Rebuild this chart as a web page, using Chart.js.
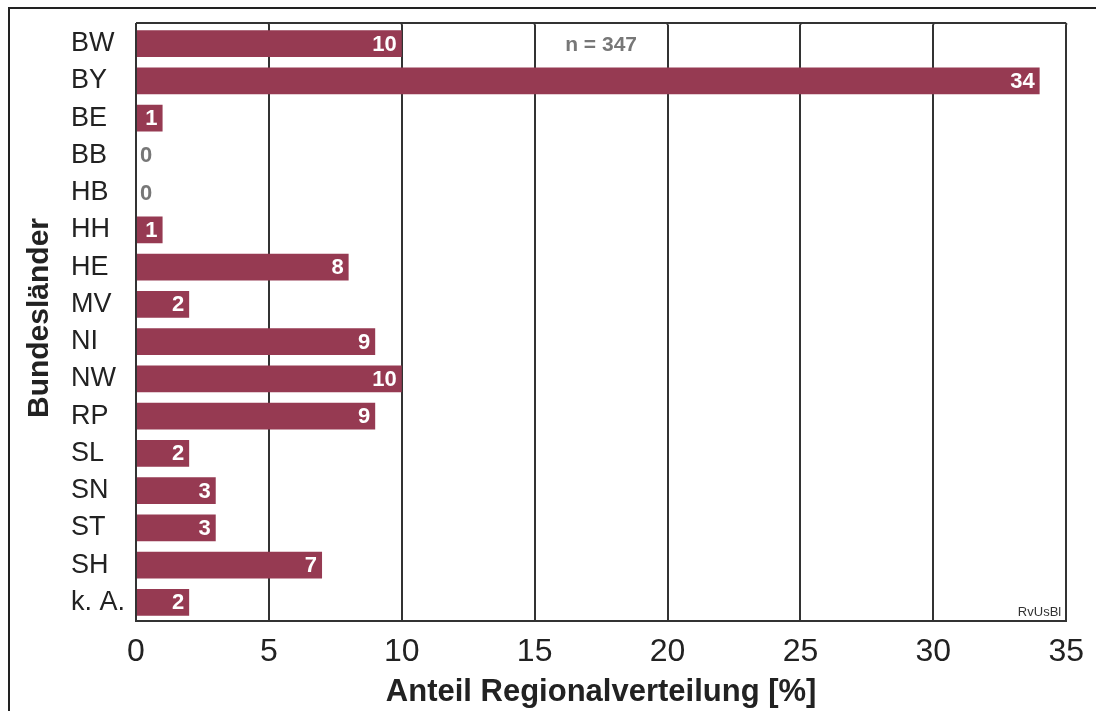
<!DOCTYPE html>
<html lang="de">
<head>
  <meta charset="UTF-8">
  <title>Regionalverteilung</title>
  <script src="https://cdn.jsdelivr.net/npm/chart.js@4"></script>
  <style>
    body { margin: 0; background: #fff; }
    #wrap { width: 1096px; height: 711px; }
  </style>
</head>
<body>
  <div id="wrap"><canvas id="chart" width="1096" height="711"></canvas></div>

  <script>
    const laender = ["BW", "BY", "BE", "BB", "HB", "HH", "HE", "MV", "NI", "NW", "RP", "SL", "SN", "ST", "SH", "k. A."]
    const anteil = [10, 34, 1, 0, 0, 1, 8, 2, 9, 10, 9, 2, 3, 3, 7, 2]
    const xTicks = [0, 5, 10, 15, 20, 25, 30, 35]

    const font = "'Liberation Sans', Arial, sans-serif"
    const barColor = '#963a52'
    const lineColor = '#333333'

    // outer frame, plot border and extra texts
    const decor = {
      id: 'decor',
      beforeDraw(chart) {
        const c = chart.ctx
        c.save()
        c.strokeStyle = '#222'
        c.lineWidth = 2
        c.beginPath()
        c.moveTo(9, 711)
        c.lineTo(9, 8)
        c.lineTo(1096, 8)
        c.stroke()
        c.restore()
      },
      afterDatasetsDraw(chart) {
        const c = chart.ctx
        const a = chart.chartArea
        const top = a.top - 2
        c.save()
        c.strokeStyle = lineColor
        c.lineWidth = 2
        c.beginPath()
        c.moveTo(a.left, top)
        c.lineTo(a.right, top)
        c.moveTo(a.left, top)
        c.lineTo(a.left, a.top)
        c.moveTo(a.right, top)
        c.lineTo(a.right, a.top)
        chart.scales.x.ticks.forEach(t => {
          const px = chart.scales.x.getPixelForValue(t.value)
          c.moveTo(px, top)
          c.lineTo(px, a.top)
        })
        c.stroke()

        // value labels
        const meta = chart.getDatasetMeta(0)
        c.font = `bold 22px ${font}`
        c.textBaseline = 'middle'
        meta.data.forEach((bar, i) => {
          const v = anteil[i]
          if (v > 0) {
            c.fillStyle = '#fff'
            c.textAlign = 'right'
            c.fillText(String(v), bar.x - 5, bar.y + 1)
          } else {
            c.fillStyle = '#777'
            c.textAlign = 'left'
            c.fillText(String(v), bar.base + 4, bar.y + 1)
          }
        })

        c.fillStyle = '#777'
        c.textAlign = 'center'
        c.font = `bold 21px ${font}`
        c.fillText('n = 347', chart.scales.x.getPixelForValue(17.5), 45)

        c.fillStyle = '#333'
        c.textAlign = 'right'
        c.textBaseline = 'alphabetic'
        c.font = `13px ${font}`
        c.fillText('RvUsBl', a.right - 5, a.bottom - 5)

        // y title
        c.fillStyle = '#222'
        c.font = `bold 30px ${font}`
        c.textAlign = 'center'
        c.textBaseline = 'middle'
        c.translate(40, 318)
        c.rotate(-Math.PI / 2)
        c.fillText('Bundesländer', 0, 0)
        c.restore()
      }
    }

    new Chart(document.getElementById('chart'), {
      type: 'bar',
      data: {
        labels: laender,
        datasets: [{
          data: anteil,
          backgroundColor: barColor,
          borderWidth: 0,
          barPercentage: 0.72,
          categoryPercentage: 1
        }]
      },
      options: {
        indexAxis: 'y',
        responsive: false,
        animation: false,
        devicePixelRatio: 1,
        layout: { padding: { left: 71, top: 25, right: 28, bottom: 0 } },
        plugins: {
          legend: { display: false },
          tooltip: { enabled: false }
        },
        scales: {
          x: {
            min: 0,
            max: 35,
            afterBuildTicks: (s) => { s.ticks = xTicks.map(v => ({ value: v })) },
            afterFit: (s) => { s.height = 90 },
            grid: { color: lineColor, lineWidth: 2, drawTicks: false },
            border: { color: lineColor, width: 2 },
            ticks: {
              padding: 12,
              maxRotation: 0,
              autoSkip: false,
              color: '#222',
              font: { family: font, size: 32 }
            },
            title: {
              display: true,
              text: 'Anteil Regionalverteilung [%]',
              color: '#222',
              padding: { top: 0, bottom: 0 },
              font: { family: font, size: 31, weight: 'bold' }
            }
          },
          y: {
            afterFit: (s) => { s.width = 65 },
            grid: { display: false, drawTicks: false },
            border: { color: lineColor, width: 2 },
            ticks: {
              crossAlign: 'far',
              color: '#222',
              autoSkip: false,
              font: { family: font, size: 27 }
            }
          }
        }
      },
      plugins: [decor]
    })
  </script>
</body>
</html>
